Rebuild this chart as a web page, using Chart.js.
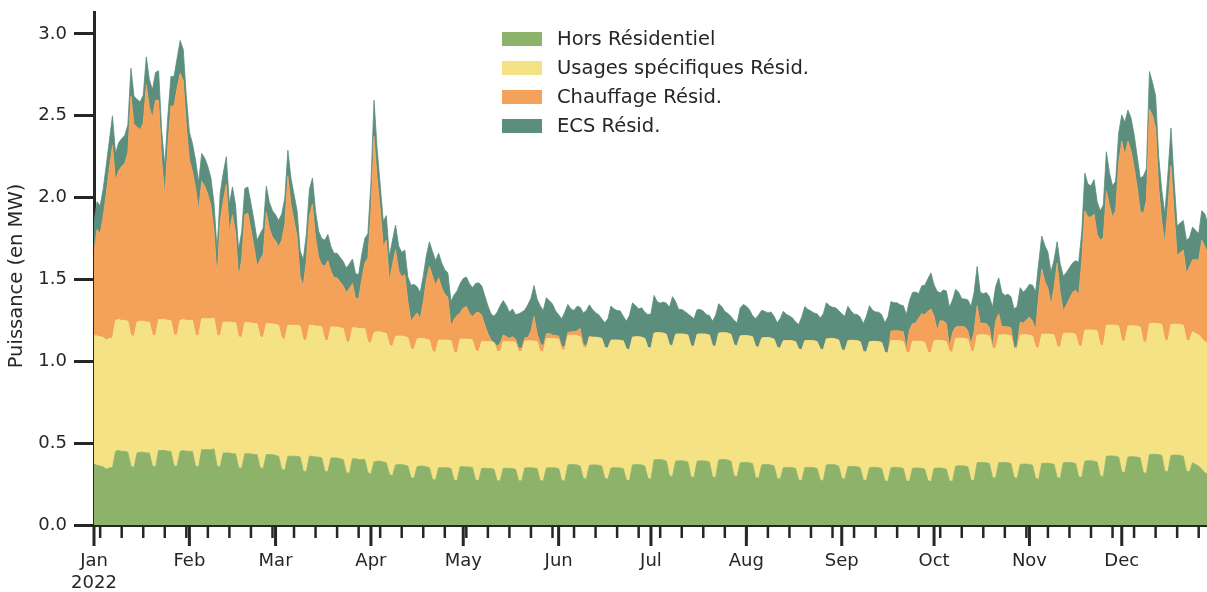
<!DOCTYPE html>
<html>
<head>
<meta charset="utf-8">
<script src="https://cdn.jsdelivr.net/npm/chart.js@4.4.0/dist/chart.umd.min.js"></script>
<style>
  html, body { margin: 0; padding: 0; background: #fff; }
  #wrap { width: 1207px; height: 592px; }
</style>
</head>
<body>
<div id="wrap"><canvas id="chart" width="1207" height="592"></canvas></div>
<script>
// ---- DATA (daily values, 2022, one row = one week) ----
const monthStarts = [0, 31, 59, 90, 120, 151, 181, 212, 243, 273, 304, 334];
const monthNames = ['Jan', 'Feb', 'Mar', 'Apr', 'May', 'Jun', 'Jul', 'Aug', 'Sep', 'Oct', 'Nov', 'Dec'];
const yearLabel = '2022';
const yTicks = [0, 0.5, 1.0, 1.5, 2.0, 2.5, 3.0];
const yTitle = 'Puissance (en MW)';

const horsResidentiel = [
  0.37,0.365,0.36,0.355,0.34,0.35,0.35,
  0.45,0.455,0.45,0.45,0.445,0.36,0.35,
  0.44,0.445,0.445,0.44,0.44,0.36,0.355,
  0.455,0.455,0.455,0.45,0.45,0.36,0.36,
  0.45,0.455,0.45,0.45,0.45,0.36,0.355,
  0.46,0.46,0.46,0.46,0.465,0.36,0.355,
  0.44,0.44,0.44,0.435,0.435,0.35,0.345,
  0.435,0.435,0.435,0.43,0.43,0.35,0.345,
  0.43,0.43,0.43,0.425,0.42,0.34,0.335,
  0.42,0.42,0.42,0.42,0.415,0.33,0.325,
  0.42,0.42,0.415,0.415,0.41,0.33,0.325,
  0.41,0.41,0.41,0.405,0.40,0.32,0.315,
  0.405,0.405,0.40,0.40,0.40,0.32,0.31,
  0.385,0.39,0.39,0.385,0.38,0.31,0.30,
  0.367,0.37,0.37,0.365,0.36,0.29,0.285,
  0.356,0.36,0.36,0.355,0.35,0.28,0.275,
  0.35,0.35,0.35,0.35,0.345,0.275,0.27,
  0.356,0.356,0.355,0.355,0.35,0.275,0.27,
  0.346,0.346,0.345,0.345,0.34,0.27,0.27,
  0.346,0.346,0.345,0.345,0.34,0.27,0.27,
  0.348,0.35,0.35,0.348,0.345,0.27,0.27,
  0.348,0.35,0.35,0.348,0.345,0.27,0.27,
  0.367,0.37,0.37,0.367,0.36,0.285,0.28,
  0.365,0.367,0.367,0.365,0.36,0.285,0.28,
  0.348,0.35,0.35,0.348,0.345,0.275,0.27,
  0.367,0.37,0.37,0.367,0.36,0.285,0.28,
  0.397,0.40,0.40,0.397,0.39,0.30,0.295,
  0.39,0.392,0.392,0.39,0.385,0.295,0.29,
  0.39,0.392,0.392,0.39,0.385,0.295,0.29,
  0.397,0.40,0.40,0.397,0.39,0.30,0.295,
  0.38,0.382,0.382,0.38,0.375,0.29,0.285,
  0.367,0.37,0.37,0.367,0.36,0.285,0.28,
  0.35,0.352,0.352,0.35,0.345,0.275,0.27,
  0.35,0.352,0.352,0.35,0.345,0.275,0.27,
  0.367,0.37,0.37,0.367,0.36,0.285,0.28,
  0.356,0.358,0.358,0.356,0.35,0.275,0.27,
  0.35,0.352,0.352,0.35,0.345,0.27,0.265,
  0.35,0.352,0.352,0.35,0.345,0.27,0.265,
  0.346,0.348,0.348,0.346,0.34,0.27,0.265,
  0.346,0.348,0.348,0.346,0.34,0.27,0.265,
  0.36,0.362,0.362,0.36,0.355,0.275,0.27,
  0.38,0.382,0.382,0.38,0.375,0.29,0.285,
  0.38,0.382,0.382,0.38,0.375,0.29,0.285,
  0.37,0.372,0.372,0.37,0.365,0.285,0.28,
  0.375,0.377,0.377,0.375,0.37,0.29,0.285,
  0.38,0.382,0.382,0.38,0.375,0.295,0.29,
  0.39,0.392,0.392,0.39,0.385,0.30,0.295,
  0.42,0.422,0.422,0.42,0.415,0.325,0.32,
  0.415,0.417,0.417,0.415,0.41,0.32,0.315,
  0.43,0.432,0.432,0.43,0.425,0.33,0.325,
  0.425,0.427,0.427,0.425,0.42,0.33,0.325,
  0.38,0.37,0.36,0.34,0.32,0.31,0.31,
  0.31
];

const usagesSpecifiques = [
  0.79,0.79,0.79,0.79,0.79,0.79,0.79,
  0.80,0.80,0.80,0.80,0.80,0.80,0.80,
  0.80,0.80,0.80,0.80,0.80,0.80,0.80,
  0.80,0.80,0.80,0.80,0.80,0.80,0.80,
  0.80,0.80,0.80,0.80,0.80,0.80,0.80,
  0.80,0.80,0.80,0.80,0.80,0.80,0.80,
  0.80,0.80,0.80,0.80,0.80,0.80,0.80,
  0.80,0.80,0.80,0.80,0.80,0.80,0.80,
  0.80,0.80,0.80,0.80,0.80,0.80,0.80,
  0.80,0.80,0.80,0.80,0.80,0.80,0.80,
  0.80,0.80,0.80,0.80,0.80,0.80,0.80,
  0.80,0.80,0.80,0.80,0.80,0.80,0.80,
  0.80,0.80,0.80,0.80,0.80,0.80,0.80,
  0.79,0.79,0.79,0.79,0.79,0.79,0.79,
  0.785,0.785,0.785,0.785,0.785,0.785,0.785,
  0.78,0.78,0.78,0.78,0.78,0.78,0.78,
  0.78,0.78,0.78,0.78,0.78,0.78,0.78,
  0.78,0.78,0.78,0.78,0.78,0.79,0.79,
  0.775,0.775,0.775,0.775,0.775,0.79,0.79,
  0.775,0.775,0.775,0.775,0.775,0.79,0.79,
  0.775,0.775,0.775,0.775,0.775,0.79,0.79,
  0.79,0.79,0.79,0.79,0.79,0.80,0.80,
  0.79,0.79,0.79,0.79,0.79,0.80,0.80,
  0.78,0.78,0.78,0.78,0.78,0.80,0.80,
  0.78,0.78,0.78,0.78,0.78,0.80,0.80,
  0.78,0.78,0.78,0.78,0.78,0.80,0.80,
  0.775,0.775,0.775,0.775,0.775,0.80,0.80,
  0.775,0.775,0.775,0.775,0.775,0.80,0.80,
  0.775,0.775,0.775,0.775,0.775,0.80,0.80,
  0.775,0.775,0.775,0.775,0.775,0.80,0.80,
  0.775,0.775,0.775,0.775,0.775,0.80,0.80,
  0.775,0.775,0.775,0.775,0.775,0.80,0.80,
  0.775,0.775,0.775,0.775,0.775,0.80,0.80,
  0.775,0.775,0.775,0.775,0.775,0.80,0.80,
  0.77,0.77,0.77,0.77,0.77,0.785,0.785,
  0.77,0.77,0.77,0.77,0.77,0.785,0.785,
  0.77,0.77,0.77,0.77,0.77,0.785,0.785,
  0.775,0.775,0.775,0.775,0.775,0.785,0.785,
  0.775,0.775,0.775,0.775,0.775,0.785,0.785,
  0.78,0.78,0.78,0.78,0.78,0.79,0.79,
  0.78,0.78,0.78,0.78,0.78,0.79,0.79,
  0.78,0.78,0.78,0.78,0.78,0.79,0.79,
  0.78,0.78,0.78,0.78,0.78,0.79,0.79,
  0.79,0.79,0.79,0.79,0.79,0.80,0.80,
  0.79,0.79,0.79,0.79,0.79,0.80,0.80,
  0.79,0.79,0.79,0.79,0.79,0.80,0.80,
  0.80,0.80,0.80,0.80,0.80,0.80,0.80,
  0.80,0.80,0.80,0.80,0.80,0.80,0.80,
  0.80,0.80,0.80,0.80,0.80,0.80,0.80,
  0.80,0.80,0.80,0.80,0.80,0.80,0.80,
  0.80,0.80,0.80,0.80,0.80,0.80,0.80,
  0.80,0.80,0.80,0.80,0.80,0.80,0.80,
  0.80
];

const chauffageResid = [
  0.52,0.65,0.63,0.74,0.90,1.04,1.18,
  0.85,0.91,0.94,0.96,1.03,1.46,1.30,
  1.19,1.17,1.21,1.45,1.31,1.33,1.44,
  1.34,0.97,0.76,1.07,1.31,1.40,1.51,
  1.51,1.46,1.19,0.98,0.91,0.90,0.77,
  0.84,0.81,0.76,0.69,0.53,0.35,0.70,
  0.74,0.84,0.55,0.66,0.55,0.36,0.48,
  0.66,0.67,0.57,0.47,0.35,0.47,0.51,
  0.68,0.58,0.53,0.51,0.48,0.60,0.70,
  0.91,0.74,0.64,0.54,0.30,0.33,0.49,
  0.67,0.74,0.54,0.42,0.38,0.45,0.49,
  0.34,0.30,0.30,0.28,0.26,0.30,0.33,
  0.27,0.18,0.18,0.30,0.40,0.51,0.81,
  1.20,0.94,0.75,0.53,0.57,0.39,0.50,
  0.53,0.40,0.36,0.38,0.22,0.17,0.20,
  0.16,0.12,0.22,0.36,0.45,0.46,0.41,
  0.38,0.32,0.28,0.26,0.09,0.20,0.23,
  0.16,0.19,0.20,0.16,0.14,0.23,0.24,
  0.16,0.10,0.05,0.01,0,0.03,0.05,
  0.04,0.03,0.02,0.03,0.02,0.02,0.02,
  0.02,0.02,0.06,0.15,0.05,0.05,0.03,
  0.03,0.03,0.02,0.02,0.02,0.02,0.02,
  0.02,0.02,0.02,0.03,0.05,0.02,0.01,
  0.01,0,0,0,0,0,0,
  0,0,0,0,0,0,0,
  0,0,0,0,0,0,0,
  0,0,0,0,0,0,0,
  0,0,0,0,0,0,0,
  0,0,0,0,0,0,0,
  0,0,0,0,0,0,0,
  0,0,0,0,0,0,0,
  0,0,0,0,0,0,0,
  0,0,0,0,0,0,0,
  0,0,0,0,0,0,0,
  0,0,0,0,0,0,0,
  0,0,0,0,0,0,0,
  0,0,0,0,0,0,0,
  0.06,0.06,0.06,0.06,0.06,0.02,0.14,
  0.11,0.11,0.14,0.17,0.17,0.25,0.27,
  0.15,0.06,0.12,0.12,0.11,0.03,0.12,
  0.07,0.07,0.07,0.07,0.05,0.04,0.12,
  0.18,0.07,0.07,0.07,0.05,0.01,0.17,
  0.13,0.05,0.05,0.05,0.05,0,0.02,
  0.08,0.07,0.09,0.11,0.09,0.11,0.32,
  0.40,0.32,0.28,0.18,0.29,0.51,0.33,
  0.14,0.17,0.21,0.25,0.27,0.31,0.52,
  0.73,0.69,0.69,0.71,0.59,0.64,0.66,
  0.82,0.73,0.66,0.70,1.00,1.22,1.14,
  1.13,1.07,0.97,0.85,0.71,0.78,0.87,
  1.31,1.27,1.19,0.83,0.63,0.59,0.82,
  0.97,0.68,0.42,0.44,0.46,0.41,0.45,
  0.44,0.45,0.46,0.60,0.58,0.55,0.52,
  0.50
];

const ecsResid = [
  0.17,0.17,0.17,0.17,0.17,0.17,0.18,
  0.17,0.17,0.17,0.17,0.17,0.17,0.17,
  0.17,0.17,0.17,0.17,0.17,0.17,0.17,
  0.18,0.18,0.18,0.18,0.18,0.18,0.18,
  0.20,0.19,0.18,0.17,0.17,0.17,0.17,
  0.17,0.17,0.17,0.17,0.17,0.17,0.17,
  0.17,0.17,0.17,0.17,0.17,0.17,0.17,
  0.16,0.16,0.16,0.16,0.16,0.16,0.16,
  0.16,0.16,0.16,0.16,0.16,0.16,0.16,
  0.16,0.16,0.16,0.16,0.16,0.16,0.16,
  0.16,0.16,0.16,0.16,0.16,0.16,0.16,
  0.15,0.15,0.15,0.15,0.15,0.15,0.15,
  0.15,0.15,0.15,0.15,0.15,0.15,0.17,
  0.22,0.18,0.15,0.15,0.15,0.15,0.15,
  0.15,0.15,0.15,0.15,0.15,0.22,0.20,
  0.16,0.16,0.16,0.15,0.15,0.15,0.15,
  0.15,0.15,0.15,0.15,0.15,0.15,0.15,
  0.18,0.18,0.18,0.18,0.18,0.18,0.18,
  0.18,0.18,0.17,0.16,0.16,0.21,0.23,
  0.21,0.19,0.16,0.17,0.15,0.21,0.22,
  0.17,0.20,0.20,0.19,0.21,0.23,0.22,
  0.22,0.20,0.19,0.15,0.13,0.17,0.21,
  0.17,0.14,0.13,0.15,0.13,0.19,0.22,
  0.19,0.17,0.15,0.14,0.12,0.15,0.18,
  0.21,0.19,0.18,0.18,0.15,0.17,0.21,
  0.21,0.19,0.17,0.18,0.16,0.20,0.21,
  0.23,0.19,0.18,0.19,0.19,0.23,0.30,
  0.20,0.15,0.15,0.14,0.13,0.18,0.17,
  0.15,0.15,0.14,0.12,0.12,0.15,0.19,
  0.18,0.16,0.13,0.12,0.11,0.15,0.14,
  0.17,0.19,0.18,0.16,0.13,0.17,0.20,
  0.17,0.16,0.15,0.16,0.14,0.15,0.18,
  0.18,0.16,0.15,0.14,0.12,0.15,0.20,
  0.21,0.19,0.18,0.17,0.17,0.19,0.22,
  0.22,0.20,0.19,0.19,0.18,0.22,0.21,
  0.21,0.18,0.16,0.16,0.15,0.17,0.22,
  0.22,0.19,0.18,0.18,0.17,0.18,0.22,
  0.18,0.17,0.17,0.16,0.16,0.21,0.18,
  0.19,0.19,0.15,0.17,0.18,0.20,0.22,
  0.19,0.24,0.17,0.19,0.20,0.24,0.20,
  0.23,0.21,0.17,0.17,0.19,0.23,0.24,
  0.24,0.19,0.18,0.19,0.19,0.24,0.21,
  0.22,0.21,0.19,0.20,0.19,0.24,0.24,
  0.21,0.19,0.19,0.20,0.22,0.23,0.20,
  0.20,0.22,0.22,0.20,0.17,0.13,0.18,
  0.21,0.20,0.19,0.18,0.18,0.20,0.18,
  0.23,0.20,0.19,0.21,0.20,0.18,0.20,
  0.24,0.20,0.19,0.18,0.18,0.16,0.20,
  0.19,0.20,0.20,0.19,0.20,0.23,0.19,
  0.23,0.20,0.20,0.19,0.19,0.18,0.20,
  0.23,0.20,0.18,0.18,0.18,0.20,0.18,
  0.20,0.18,0.16,0.18,0.20,0.18,0.18,
  0.18
];

// day index of each sample (0 = 1 Jan) and weekly minor ticks (Mondays)
const dayIndex = horsResidentiel.map((_, i) => i);
const weekTicks = [];
for (let d = 2; d < 365; d += 7) weekTicks.push(d);

const ink = '#262626';
const fontFamily = 'DejaVu Sans';
Chart.defaults.font.family = fontFamily;

// ğŸ“ x tick marks: long ones at month starts, short ones every week
const xTickMarks = {
  id: 'xTickMarks',
  afterDraw(chart) {
    const { ctx, chartArea, scales } = chart;
    const x = scales.x;
    const y0 = chartArea.bottom + 1;
    ctx.save();
    ctx.strokeStyle = ink;
    ctx.lineWidth = 2.5;
    weekTicks.forEach(d => {
      if (d > x.max) return;
      const px = x.getPixelForValue(d);
      ctx.beginPath(); ctx.moveTo(px, y0); ctx.lineTo(px, y0 + 12); ctx.stroke();
    });
    ctx.lineWidth = 3;
    monthStarts.forEach(d => {
      const px = x.getPixelForValue(d);
      ctx.beginPath(); ctx.moveTo(px, y0); ctx.lineTo(px, y0 + 20); ctx.stroke();
    });
    ctx.restore();
  }
};

// ğŸ·ï¸ legend box + rotated y title
const boxLegend = {
  id: 'boxLegend',
  afterDraw(chart) {
    const ctx = chart.ctx;
    ctx.save();
    ctx.font = '19.5px "' + fontFamily + '"';
    ctx.textBaseline = 'middle';
    chart.data.datasets.forEach((ds, i) => {
      const cy = 39 + i * 29;
      ctx.fillStyle = ds.backgroundColor;
      ctx.fillRect(502, cy - 7, 40, 14);
      ctx.fillStyle = ink;
      ctx.fillText(ds.label, 557, cy + 1);
    });
    // y axis title
    ctx.translate(17, 276);
    ctx.rotate(-Math.PI / 2);
    ctx.textAlign = 'center';
    ctx.fillText(yTitle, 0, 0);
    ctx.restore();
  }
};

function layer(label, data, color, fill) {
  return {
    label, data,
    backgroundColor: color,
    borderColor: color,
    borderWidth: 0.8,
    pointRadius: 0,
    tension: 0,
    fill
  };
}

new Chart(document.getElementById('chart'), {
  type: 'line',
  data: {
    labels: dayIndex,
    datasets: [
      layer('Hors Résidentiel', horsResidentiel, '#8cb369', 'origin'),
      layer('Usages spécifiques Résid.', usagesSpecifiques, '#f4e285', '-1'),
      layer('Chauffage Résid.', chauffageResid, '#f4a259', '-1'),
      layer('ECS Résid.', ecsResid, '#5b8e7d', '-1')
    ]
  },
  options: {
    responsive: false,
    animation: false,
    devicePixelRatio: 1,
    layout: { padding: { top: 12, left: 0, right: 0, bottom: 0 } },
    plugins: { legend: { display: false }, tooltip: { enabled: false } },
    scales: {
      x: {
        type: 'linear',
        min: 0,
        max: 361.7,
        afterBuildTicks: s => { s.ticks = monthStarts.map(v => ({ value: v })); },
        afterFit: s => { s.height = 67; s.paddingLeft = 0; s.paddingRight = 0; },
        grid: { display: true, drawOnChartArea: false, drawTicks: true, tickLength: 20, color: 'transparent', tickColor: 'transparent' },
        border: { display: true, color: ink, width: 3 },
        ticks: {
          autoSkip: false,
          maxRotation: 0,
          padding: 6,
          color: ink,
          font: { size: 18 },
          callback: (v, i) => i === 0 ? [monthNames[0], yearLabel] : monthNames[i]
        }
      },
      y: {
        stacked: true,
        min: 0,
        max: 3.134,
        afterBuildTicks: s => { s.ticks = yTicks.map(v => ({ value: v })); },
        afterFit: s => { s.width = 94; s.paddingTop = 0; s.paddingBottom = 0; },
        grid: { display: true, drawOnChartArea: false, drawTicks: true, tickLength: 20, tickWidth: 3, tickColor: ink, color: 'transparent' },
        border: { display: true, color: ink, width: 3 },
        ticks: { color: ink, font: { size: 18 }, padding: 7, callback: v => v.toFixed(1) }
      }
    }
  },
  plugins: [xTickMarks, boxLegend]
});
</script>
</body>
</html>
